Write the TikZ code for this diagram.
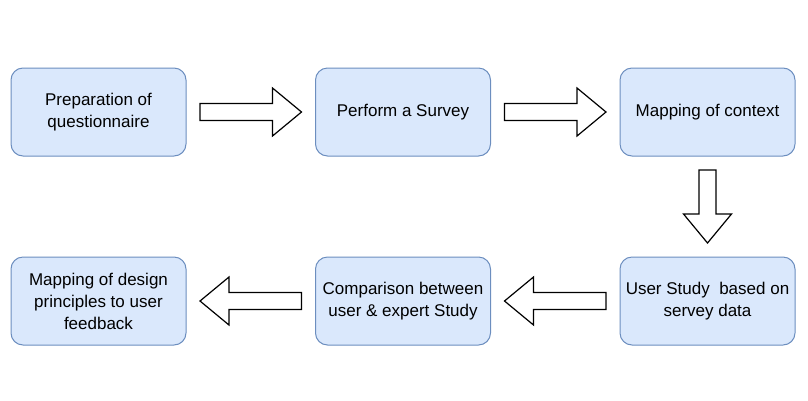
\documentclass[tikz,border=0pt]{standalone}
\usepackage{fontspec}
\setmainfont{Liberation Sans}
\usetikzlibrary{positioning,calc}

\definecolor{stagefill}{HTML}{DAE8FC}
\definecolor{stageline}{HTML}{6C8EBF}

\tikzset{
  stage/.style={draw=stageline, fill=stagefill, line width=1pt, rounded corners=12pt,
    minimum width=175pt, minimum height=88pt, inner sep=2pt, outer sep=0pt, align=center,
    font=\fontsize{17}{22}\selectfont},
  % hollow block arrow between two anchors
  blockarrow/.style={draw=black, fill=white, line width=1.2pt, to path={
    let \p1=($(\tikztostart)!14pt!(\tikztotarget)$), \p2=($(\tikztotarget)!14pt!(\tikztostart)$),
        \p3=($(\p2)!29pt!(\p1)$) in
    ($(\p1)!8.5pt!90:(\p2)$) -- ($(\p3)!8.5pt!90:(\p2)$) -- ($(\p3)!24pt!90:(\p2)$) -- (\p2)
    -- ($(\p3)!24pt!-90:(\p2)$) -- ($(\p3)!8.5pt!-90:(\p2)$) -- ($(\p1)!8.5pt!-90:(\p2)$) -- cycle}}
}

\begin{document}
\begin{tikzpicture}[x=1pt, y=1pt, node distance=101pt and 129.5pt]
    \useasboundingbox (0,0) rectangle (808,-400);

    \node[stage] (prep) at (98.5,-112) {Preparation of\\questionnaire};
    \node[stage, right=of prep] (survey) {Perform a Survey};
    \node[stage, right=of survey] (context) {Mapping of context};
    \node[stage, below=of context] (user) {User Study\ \ based on\\servey data};
    \node[stage, left=of user] (compare) {Comparison between\\user \& expert Study};
    \node[stage, left=of compare] (design) {Mapping of design\\principles to user\\feedback};

    \draw[blockarrow] (prep.east) to (survey.west);
    \draw[blockarrow] (survey.east) to (context.west);
    \draw[blockarrow] (context.south) to (user.north);
    \draw[blockarrow] (user.west) to (compare.east);
    \draw[blockarrow] (compare.west) to (design.east);
\end{tikzpicture}
\end{document}
